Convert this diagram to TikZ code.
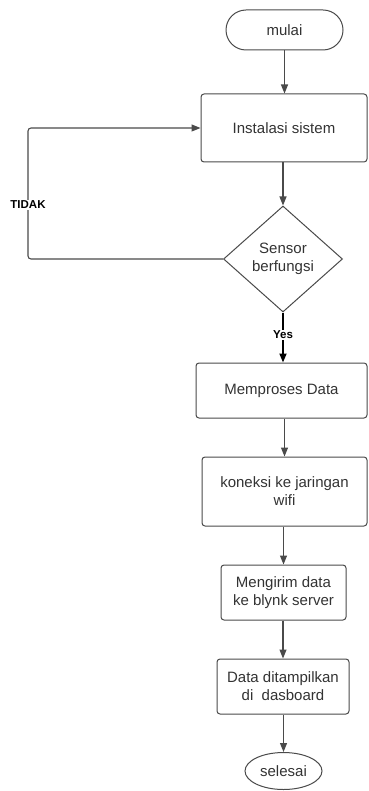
\documentclass[tikz,border=0pt]{standalone}
\usepackage{fontspec}
\setmainfont{Liberation Sans}
\usetikzlibrary{shapes.geometric,arrows.meta}
\definecolor{ln}{HTML}{4A4A4A}
\definecolor{tx}{HTML}{333333}
\tikzset{
  box/.style={draw=ln, line width=1pt, rounded corners=3pt, align=center, text=tx, font=\fontsize{15}{18}\selectfont, inner sep=2pt},
  flow/.style={draw=ln, line width=1.1pt, -{Triangle[length=9pt,width=7pt]}},
  lbl/.style={font=\bfseries\fontsize{11.5}{13}\selectfont, text=black, fill=white, inner sep=1pt}
}
\begin{document}
\begin{tikzpicture}[x=1pt,y=-1pt]
\useasboundingbox[fill=white] (0,0) rectangle (368,791);
\node[box, rounded corners=20pt, minimum width=117pt, minimum height=40pt] (start) at (284.5,30) {mulai};
\node[box, minimum width=166pt, minimum height=68pt] (inst) at (284,128) {Instalasi sistem};
\node[draw=ln, line width=1pt, shape=diamond, inner sep=0pt, minimum width=119pt, minimum height=106pt, align=center, text=tx, font=\fontsize{15}{18}\selectfont] (dec) at (283,259) {Sensor\\berfungsi};
\node[box, minimum width=171pt, minimum height=55pt] (proc) at (281.5,390.5) {Memproses Data};
\node[box, minimum width=165pt, minimum height=69pt] (wifi) at (284.5,491.5) {koneksi ke jaringan\\wifi};
\node[box, minimum width=125pt, minimum height=55pt] (send) at (283.5,592.5) {Mengirim data\\ke blynk server};
\node[box, minimum width=132pt, minimum height=55pt] (show) at (283,686.5) {Data ditampilkan\\di\ \ dasboard};
\node[draw=ln, line width=1pt, ellipse, minimum width=77pt, minimum height=37pt, inner sep=0pt, text=tx, font=\fontsize{15}{18}\selectfont] (end) at (283.5,771) {selesai};
\coordinate (c1) at (28,259);
\coordinate (c2) at (28,128);
\draw[flow] (start.south) -- (start.south |- inst.north);
\draw[flow] (inst.south -| dec.north) -- (dec.north);
\draw[flow, rounded corners=3pt] (dec.west) -- (c1) -- (c2) -- (inst.west);
\node[lbl] (tidak) at (28,205) {TIDAK};
\draw[draw=black, line width=1.8pt, -{Triangle[length=9pt,width=7pt]}] (dec.south) -- (dec.south |- proc.north) node[lbl, pos=0.45] (yes) {Yes};
\draw[flow] (proc.south -| wifi.north) -- (wifi.north);
\draw[flow] (wifi.south -| send.north) -- (send.north);
\draw[flow] (send.south -| show.north) -- (show.north);
\draw[flow] (show.south -| end.north) -- (end.north);
\end{tikzpicture}
\end{document}
